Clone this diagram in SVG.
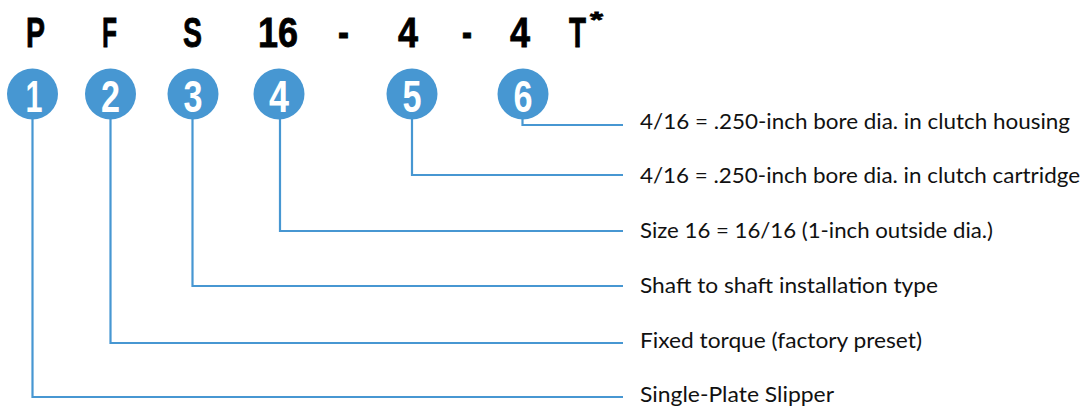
<svg xmlns="http://www.w3.org/2000/svg" width="1083" height="408" viewBox="0 0 1083 408">
<style>
.code{font-family:"Liberation Sans",Arial,sans-serif;font-weight:bold;font-size:42px;fill:#000;stroke:#000;stroke-width:0.8}
.num{font-family:"Liberation Sans",Arial,sans-serif;font-weight:bold;font-size:44px;fill:#fff;text-anchor:middle}
.bub{fill:#4797d2}
.lbl{font-family:Lato,"Open Sans",sans-serif;font-size:21px;fill:#111}
.conn{fill:none;stroke:#4797d2;stroke-width:2.2}
</style>
<g id="code">
<text class="code" x="26" y="47" textLength="19" lengthAdjust="spacingAndGlyphs">P</text>
<text class="code" x="102" y="47" textLength="15" lengthAdjust="spacingAndGlyphs">F</text>
<text class="code" x="183" y="47" textLength="19" lengthAdjust="spacingAndGlyphs">S</text>
<text class="code" x="258" y="47" textLength="40" lengthAdjust="spacingAndGlyphs">16</text>
<text class="code" x="338" y="47" textLength="11" lengthAdjust="spacingAndGlyphs">-</text>
<text class="code" x="398" y="47" textLength="20" lengthAdjust="spacingAndGlyphs">4</text>
<text class="code" x="462" y="47" textLength="10" lengthAdjust="spacingAndGlyphs">-</text>
<text class="code" x="510" y="47" textLength="20" lengthAdjust="spacingAndGlyphs">4</text>
<text class="code" y="47"><tspan x="569" textLength="17" lengthAdjust="spacingAndGlyphs">T</tspan><tspan x="590" y="27" style="font-size:22px" textLength="13" lengthAdjust="spacingAndGlyphs">*</tspan></text>
</g>
<g id="connectors">
<path class="conn" d="M32.5 118V397H623"/>
<path class="conn" d="M110.5 118V343H623"/>
<path class="conn" d="M192.5 118V286H623"/>
<path class="conn" d="M280 118V231H623"/>
<path class="conn" d="M412 118V175H623"/>
<path class="conn" d="M522.5 118V125H623"/>
</g>
<g id="n1"><circle class="bub" cx="32.5" cy="94" r="25.5"/><text class="num" x="34" y="112" textLength="17" lengthAdjust="spacingAndGlyphs">1</text></g>
<g id="n2"><circle class="bub" cx="110.5" cy="94" r="25.5"/><text class="num" x="110.5" y="112" textLength="19" lengthAdjust="spacingAndGlyphs">2</text></g>
<g id="n3"><circle class="bub" cx="193" cy="94" r="25.5"/><text class="num" x="193" y="112" textLength="19" lengthAdjust="spacingAndGlyphs">3</text></g>
<g id="n4"><circle class="bub" cx="279" cy="94" r="25.5"/><text class="num" x="279" y="112" textLength="20" lengthAdjust="spacingAndGlyphs">4</text></g>
<g id="n5"><circle class="bub" cx="412" cy="94" r="25.5"/><text class="num" x="412" y="112" textLength="19" lengthAdjust="spacingAndGlyphs">5</text></g>
<g id="n6"><circle class="bub" cx="523" cy="94" r="25.5"/><text class="num" x="523" y="112" textLength="19" lengthAdjust="spacingAndGlyphs">6</text></g>
<g id="labels">
<text class="lbl" x="640" y="129" textLength="430" lengthAdjust="spacingAndGlyphs">4/16 = .250-inch bore dia. in clutch housing</text>
<text class="lbl" x="640" y="183" textLength="440" lengthAdjust="spacingAndGlyphs">4/16 = .250-inch bore dia. in clutch cartridge</text>
<text class="lbl" x="640" y="238" textLength="353" lengthAdjust="spacingAndGlyphs">Size 16 = 16/16 (1-inch outside dia.)</text>
<text class="lbl" x="640" y="293" textLength="298" lengthAdjust="spacingAndGlyphs">Shaft to shaft installation type</text>
<text class="lbl" x="640" y="348" textLength="282" lengthAdjust="spacingAndGlyphs">Fixed torque (factory preset)</text>
<text class="lbl" x="640" y="402" textLength="194" lengthAdjust="spacingAndGlyphs">Single-Plate Slipper</text>
</g>
</svg>
